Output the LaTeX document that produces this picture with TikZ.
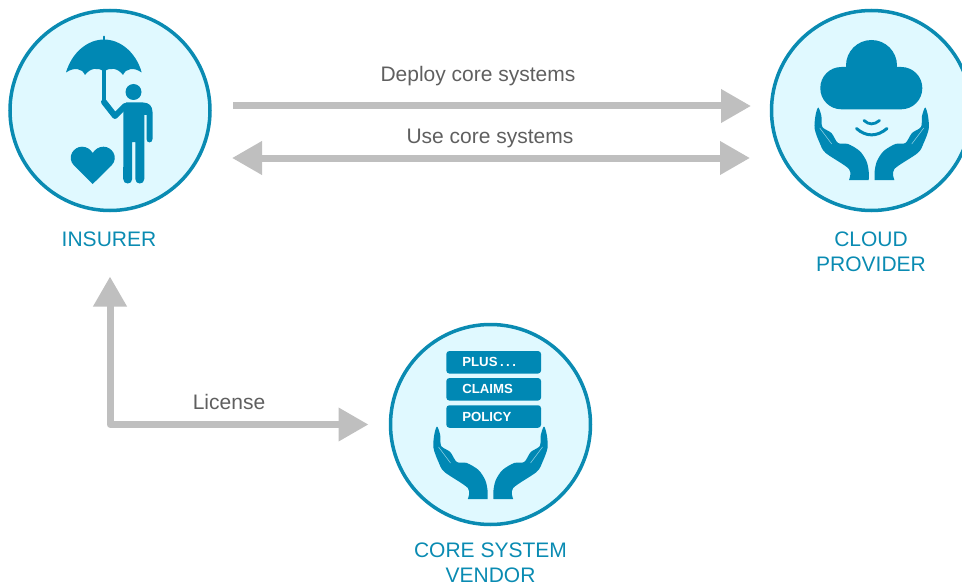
\documentclass[tikz,border=0pt]{standalone}
\usepackage{fontspec}
\setmainfont{Liberation Sans}
\usetikzlibrary{arrows.meta}
\definecolor{iconblue}{HTML}{0088B4}
\definecolor{rimblue}{HTML}{0A8BB2}
\definecolor{discfill}{HTML}{E0F9FF}
\definecolor{flowgray}{HTML}{BFBFBF}
\definecolor{notegray}{HTML}{5F5F5F}
\tikzset{
  disc/.style={circle, draw=rimblue, fill=discfill, line width=3.5pt, minimum size=200pt, inner sep=0pt, outer sep=0pt},
  role/.style={text=rimblue, align=center, font=\fontsize{21}{25}\selectfont},
  note/.style={text=notegray, font=\fontsize{21}{25}\selectfont},
  flow/.style={draw=flowgray, line width=7pt, line join=round},
  bighead/.tip={Triangle[length=30pt,width=32pt]},
  stackbox/.style={fill=iconblue, rounded corners=3pt, minimum height=22.5pt, text width=62.7pt, inner xsep=16pt, inner ysep=0pt, text=white, font=\fontsize{13.2}{15}\selectfont\bfseries, align=left},
  pics/hand/.style={code={
    \fill[iconblue] plot[smooth, tension=.5] coordinates {(-3,0) (-3,-9) (-5.3,-19) (-12,-29) (-23.7,-36) (-33.7,-37) (-40.3,-47) (-49.3,-53) (-50.3,-64) (-53.5,-72.5)
      (-56.3,-64) (-57,-51) (-52,-37) (-46,-27) (-22.7,-11) (-22.7,0)} -- cycle;
    \draw[discfill!70!iconblue, line width=.5pt] (-52,-52) -- (-40,-36);
  }},
  pics/hands/.style={code={
    \pic {hand};
    \pic[xscale=-1] {hand};
  }},
}
\begin{document}
\begin{tikzpicture}[x=1pt, y=-1pt]
    \clip (0,0) rectangle (962,586);

    % Draw the three discs
    \node[disc] (insurer) at (110,110.5) {};
    \node[disc] (cloud) at (871.5,110.5) {};
    \node[disc] (vendor) at (490.5,424.5) {};

    % Draw labels
    \node[role] (insurerlabel) at (109,239) {INSURER};
    \node[role] (cloudlabel) at (871,251.5) {CLOUD\\PROVIDER};
    \node[role] (vendorlabel) at (490.5,562.5) {CORE SYSTEM\\VENDOR};
    \node[note] (deploylabel) at (478,76) {Deploy core systems};
    \node[note] (uselabel) at (490,138.5) {Use core systems};
    \node[note] (licenselabel) at (229,402) {License};

    % Draw arrows
    \draw[flow, -bighead, shorten <=23pt, shorten >=20.5pt] ([yshift=4.5pt]insurer.east) -- ([yshift=4.5pt]cloud.west);
    \draw[flow, bighead-bighead, shorten <=22pt, shorten >=21.5pt] ([yshift=-47.5pt]insurer.east) -- ([yshift=-47.5pt]cloud.west);
    \draw[flow, bighead-bighead, shorten <=66pt, shorten >=22pt] (insurer.south) |- (vendor.west);

    % Umbrella and person
    \fill[iconblue] (66,72.5) .. controls (72,52) and (88,39.5) .. (104,39.5) .. controls (120,39.5) and (136,52) .. (141.7,72.5)
      .. controls (134,67) and (126,68) .. (123,75) .. controls (118,68) and (110,67) .. (104,71.5)
      .. controls (98,67) and (90,68) .. (85,75) .. controls (82,68) and (74,67) .. (66,72.5) -- cycle;
    \draw[iconblue, line width=1.6pt, line cap=round] (104,36.5) -- (104,40);
    \draw[iconblue, line width=4pt] (104,70) -- (104,101);
    \draw[iconblue, line width=6pt, line cap=round, line join=round] (104,102) -- (115,116) -- (125,106);
    \fill[iconblue] (133.5,92) circle (8pt);
    \fill[iconblue] (123.5,106) -- (126,102.5) -- (143,102.5) .. controls (149,102.5) and (152.5,106) .. (152.5,112)
      -- (152.5,139) .. controls (152.5,143.5) and (146.5,143.5) .. (146.5,139) -- (146.5,115) -- (144.3,115) -- (144.3,179)
      .. controls (144.3,185) and (135.3,185) .. (135.3,179) -- (135.3,142) -- (132.2,142) -- (132.2,179)
      .. controls (132.2,185) and (123.2,185) .. (123.2,179) -- cycle;

    % Heart
    \fill[iconblue] (92.7,184) -- (74,165.5) .. controls (66,157) and (74,146.5) .. (82,146.7)
      .. controls (87,146.7) and (90.5,149.5) .. (92.7,153) .. controls (95,149.5) and (98.5,146.7) .. (103.5,146.7)
      .. controls (111.5,146.5) and (119.5,157) .. (111.5,165.5) -- cycle;

    % Cloud, signal and hands
    \fill[iconblue, rounded corners=21pt] (820.3,67) rectangle (922.3,109.3);
    \fill[iconblue] (871.5,65.5) circle (25.5pt);
    \draw[iconblue, line width=2.8pt, line cap=round] (864,120.5) .. controls (869,125) and (874,125) .. (879.5,120.5);
    \draw[iconblue, line width=3pt, line cap=round] (856.5,128.5) .. controls (866,137) and (877,137) .. (887,128.5);
    \pic at (871.7,180) {hands};

    % Stack of products and hands
    \node[stackbox] (plus) at (493.7,362.3) {PLUS\hspace{2.5pt}.\hspace{2.5pt}.\hspace{2.5pt}.};
    \node[stackbox] (claims) at (493.7,389.3) {CLAIMS};
    \node[stackbox] (policy) at (493.7,416.5) {POLICY};
    \pic at (490.5,499) {hands};
\end{tikzpicture}
\end{document}
